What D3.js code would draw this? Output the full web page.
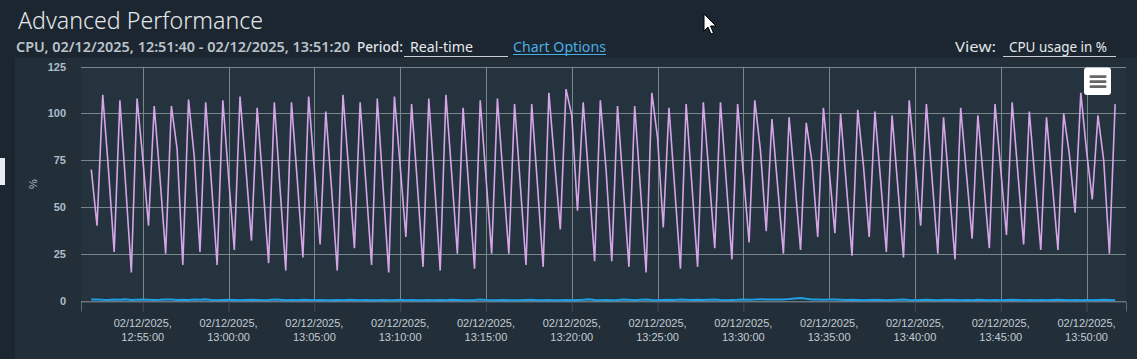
<!DOCTYPE html>
<html><head><meta charset="utf-8">
<script src="https://cdn.jsdelivr.net/npm/d3@7"></script>
<style>
html,body{margin:0;padding:0;background:#1b2630;overflow:hidden}
svg{display:block}
</style></head><body>
<svg id="c" width="1137" height="359"></svg>
<script>
// ---- data (20 s real-time samples starting 12:52:00) ----
const startTime = "2025-02-12T12:52:00";
const stepSeconds = 20;
const cpuUsage = [
  70,40,110, 70,26,107, 62,15,108, 76,40,104, 66,25,104, 81,19,107.5, 77,26,106, 63,19,107, 66,27,109, 72,32,103,
  62,20,106, 60,16,106, 65,23,109, 70,30,101, 60,16,110, 70,28,106, 63,19,108, 61,15,109, 72,34,105, 62,18,108,
  63,16,110, 68,25,103, 60,17,107, 66,25,108, 66,25,105, 62,19,105, 62,18,111, 74,38,113, 99,48,106, 64,21,107,
  70,21,104, 61,18,104, 60,15,111, 87,39,103, 60,17,105, 62,18,106, 67,28,106, 64,22,105, 68,31,107, 80,37,97,
  61,25,98, 63,27,95, 74,34,103, 70,36,100, 62,24,102, 72,34,101, 64,26,99, 61,23,107, 74,40,105, 65,25,98,
  60,22,103, 68,33,99, 64,28,105, 70,35,106, 68,30,101, 64,27,98, 63,27,100, 78,47,111, 80,54,99, 75,25,105
];
const cpuSecondary = [
  0.5,0.6,0.4,0.3,0.5,0.4,0.6,0.3,0.4,0.5,0.4,0.3,0.4,0.6,0.5,0.3,0.4,0.3,0.5,0.4,0.6,0.3,0.2,0.3,0.4,0.3,0.2,0.3,0.4,0.3,
  0.2,0.3,0.5,0.4,0.2,0.3,0.2,0.4,0.3,0.2,0.3,0.2,0.2,0.3,0.2,0.4,0.3,0.2,0.3,0.2,0.2,0.3,0.2,0.2,0.4,0.2,0.3,0.2,0.2,0.3,
  0.2,0.3,0.2,0.4,0.3,0.2,0.2,0.3,0.5,0.3,0.2,0.2,0.3,0.2,0.2,0.2,0.3,0.4,0.2,0.2,0.3,0.2,0.2,0.3,0.2,0.3,0.4,0.6,0.3,0.2,
  0.3,0.2,0.3,0.5,0.4,0.2,0.4,0.5,0.3,0.2,0.3,0.4,0.3,0.5,0.4,0.3,0.4,0.3,0.4,0.5,0.3,0.2,0.3,0.4,0.6,0.4,0.5,0.7,0.6,0.5,
  0.6,0.6,0.8,1.1,1.3,0.9,0.6,0.5,0.4,0.6,0.5,0.4,0.3,0.4,0.3,0.2,0.3,0.4,0.3,0.2,0.3,0.4,0.5,0.3,0.2,0.3,0.4,0.3,0.2,0.3,
  0.4,0.3,0.2,0.3,0.2,0.4,0.3,0.2,0.3,0.2,0.3,0.4,0.3,0.2,0.3,0.2,0.3,0.2,0.3,0.4,0.3,0.2,0.3,0.2,0.3,0.2,0.3,0.4,0.3,0.2
];
const yTickValues = [0, 25, 50, 75, 100, 125];
const xTickTimes = ["12:55:00","13:00:00","13:05:00","13:10:00","13:15:00","13:20:00",
                    "13:25:00","13:30:00","13:35:00","13:40:00","13:45:00","13:50:00"];
const xTickDate = "02/12/2025,";
const xDomain = ["2025-02-12T12:51:24", "2025-02-12T13:52:18"];

// ---- layout ----
const svg = d3.select("#c");
const W = 1137, H = 359;
const plot = {left: 81, right: 1126, top: 66.7, bottom: 300.5};
const parse = s => new Date(s);
const t0 = parse(startTime);
const times = cpuUsage.map((_, i) => new Date(t0.getTime() + i * stepSeconds * 1000));

const x = d3.scaleTime().domain(xDomain.map(parse)).range([plot.left, plot.right]);
const y = d3.scaleLinear().domain([0, 125]).range([plot.bottom, plot.top]);

// backgrounds
svg.append("rect").attr("x",0).attr("y",0).attr("width",W).attr("height",H).attr("fill","#1b2630");
svg.append("rect").attr("x",15).attr("y",58).attr("width",W-15).attr("height",H-58).attr("fill","#222f39");
svg.append("rect").attr("x",plot.left).attr("y",plot.top).attr("width",plot.right-plot.left)
   .attr("height",plot.bottom-plot.top).attr("fill","#24333d");
svg.append("rect").attr("x",0).attr("y",158).attr("width",5).attr("height",27).attr("fill","#e6ecf0");

// header texts
const hdrFont = "'Noto Sans', 'Open Sans', sans-serif";
function txt(s, xx, yy, size, weight, fill, len) {
  const t = svg.append("text").attr("x", xx).attr("y", yy).text(s)
    .attr("font-family", hdrFont).attr("font-size", size).attr("font-weight", weight).attr("fill", fill);
  if (len) t.attr("textLength", len).attr("lengthAdjust", "spacingAndGlyphs");
  return t;
}
txt("Advanced Performance", 18, 28.5, 23.5, 300, "#e6e9ec", 245);
txt("CPU, 02/12/2025, 12:51:40 - 02/12/2025, 13:51:20", 16, 52, 14, 600, "#bcc3ca", 334);
txt("Period:", 357, 52, 14, 500, "#dfe3e7", 46);
txt("Real-time", 410, 52, 14, 400, "#e6e9ec", 63);
svg.append("line").attr("x1",404).attr("x2",508).attr("y1",56.5).attr("y2",56.5).attr("stroke","#c9ced3").attr("stroke-width",1);
txt("Chart Options", 513, 52, 14, 400, "#4aaee3", 93);
svg.append("line").attr("x1",513).attr("x2",606).attr("y1",54.5).attr("y2",54.5).attr("stroke","#4aaee3").attr("stroke-width",1);
txt("View:", 955, 52, 14, 400, "#dfe3e7", 41);
txt("CPU usage in %", 1009, 52, 14, 400, "#e6e9ec", 98);
svg.append("line").attr("x1",1003).attr("x2",1116).attr("y1",56.5).attr("y2",56.5).attr("stroke","#c9ced3").attr("stroke-width",1);

// grid
const gridColor = "#7a858e";
svg.append("g").selectAll("line").data(yTickValues).join("line")
  .attr("x1", plot.left).attr("x2", plot.right)
  .attr("y1", d => Math.round(y(d)) + 0.5).attr("y2", d => Math.round(y(d)) + 0.5)
  .attr("stroke", gridColor).attr("stroke-width", 1);
const xTicks = xTickTimes.map(s => parse("2025-02-12T" + s));
svg.append("g").selectAll("line").data(xTicks).join("line")
  .attr("x1", d => Math.round(x(d)) + 0.5).attr("x2", d => Math.round(x(d)) + 0.5)
  .attr("y1", plot.top).attr("y2", plot.bottom)
  .attr("stroke", gridColor).attr("stroke-width", 1);

// x axis
const xAxis = d3.axisBottom(x).tickValues(xTicks).tickSize(10).tickPadding(0).tickFormat(() => "");
const gx = svg.append("g").attr("transform", `translate(0,${Math.round(plot.bottom)+0.5})`).call(xAxis);
gx.select(".domain").attr("stroke", "#5f6b75");
gx.selectAll(".tick line").attr("stroke", "#4d4a55");
gx.selectAll(".tick text").remove();
const xl = svg.append("g").selectAll("text").data(xTicks).join("text")
  .attr("x", d => x(d)).attr("text-anchor", "middle")
  .attr("font-family", "'Liberation Sans', Arial, sans-serif").attr("font-size", 11)
  .attr("fill", "#c3cbd3");
xl.append("tspan").attr("x", d => x(d)).attr("y", 327).text(xTickDate);
xl.append("tspan").attr("x", d => x(d)).attr("y", 341).text((d, i) => xTickTimes[i]);

// y axis
const yAxis = d3.axisLeft(y).tickValues(yTickValues).tickSize(0).tickPadding(15);
const gy = svg.append("g").attr("transform", `translate(${plot.left},0)`).call(yAxis);
gy.select(".domain").remove();
gy.selectAll(".tick text").attr("font-family", "'Liberation Sans', Arial, sans-serif")
  .attr("font-size", 11).attr("fill", "#aebdcb").attr("font-weight", 700);
svg.append("text").attr("transform", "translate(37,184) rotate(-90)").attr("text-anchor", "middle")
  .attr("font-family", "'Liberation Sans', Arial, sans-serif").attr("font-size", 11)
  .attr("fill", "#aebdcb").text("%");

// series
const line = d3.line().x((d, i) => x(times[i])).y(d => y(d));
svg.append("path").datum(cpuSecondary).attr("d", line).attr("fill", "none")
  .attr("stroke", "#1e9fe6").attr("stroke-width", 2);
svg.append("path").datum(cpuUsage).attr("d", line).attr("fill", "none")
  .attr("stroke", "#d6a5e8").attr("stroke-width", 1.6).attr("stroke-linejoin", "miter");

// menu button
svg.append("rect").attr("x", 1084).attr("y", 67.5).attr("width", 27).attr("height", 27.5).attr("rx", 3)
  .attr("fill", "#ffffff");
[76.5, 81.5, 86.5].forEach(yy => svg.append("rect").attr("x", 1089.5).attr("y", yy - 1.2)
  .attr("width", 17).attr("height", 2.6).attr("rx", 1.2).attr("fill", "#666666"));

// mouse pointer
svg.append("path").attr("d", "M704,14 L704,31 L708,27 L711,34 L713.5,33 L710.5,26 L716,26 Z")
  .attr("fill", "#ffffff").attr("stroke", "#000000").attr("stroke-width", 1);
</script>
</body></html>
